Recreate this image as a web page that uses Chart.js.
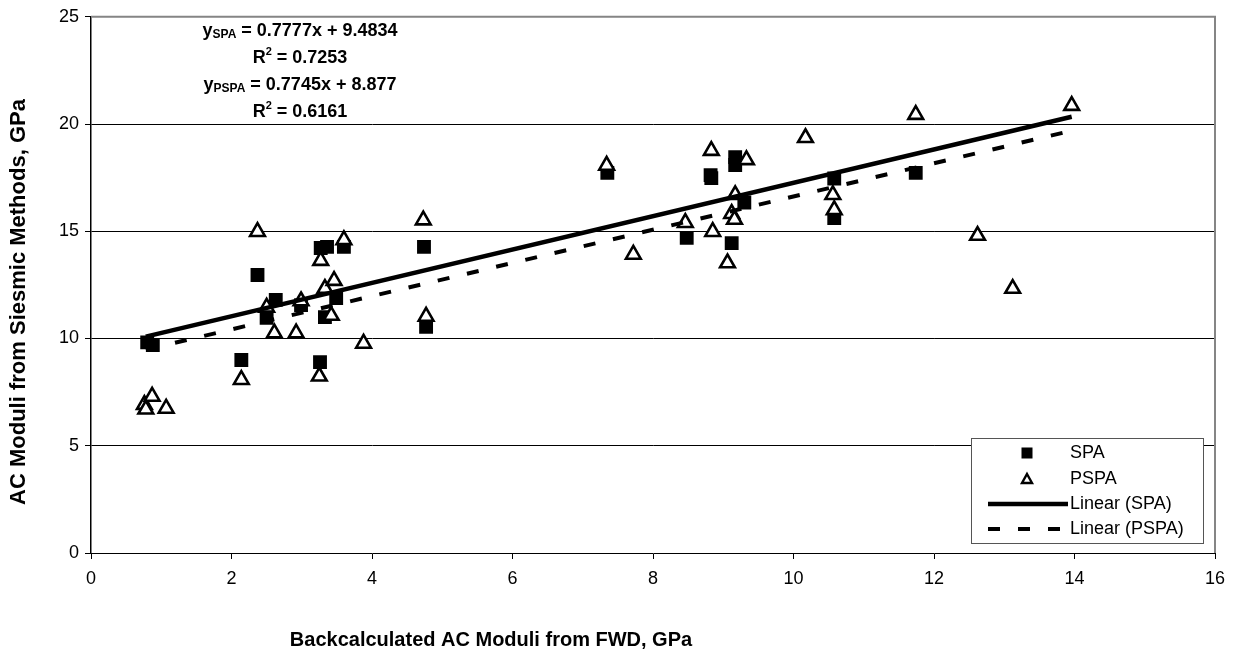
<!DOCTYPE html>
<html>
<head>
<meta charset="utf-8">
<script src="https://cdn.jsdelivr.net/npm/chart.js@4.4.0/dist/chart.umd.min.js"></script>
<style>
  html, body { margin: 0; padding: 0; background: #fff; }
</style>
</head>
<body>
<canvas id="chart" width="1239" height="652"></canvas>
<script>
// SPA measurements (FWD backcalculated vs. seismic), GPa
const spaX = [0.8, 0.88, 2.14, 2.37, 2.5, 2.63, 2.99, 3.26, 3.27, 3.36, 3.33, 3.49, 3.6, 4.74, 4.77,
  7.35, 8.82, 8.83, 8.48, 9.12, 9.17, 9.17, 9.3, 10.58, 10.58, 11.74];
const spaY = [9.82, 9.7, 9.0, 12.96, 10.96, 11.8, 11.56, 8.9, 14.22, 14.27, 11.0, 11.89, 14.27, 14.27, 10.54,
  17.72, 17.62, 17.48, 14.69, 14.45, 18.46, 18.09, 16.34, 17.46, 15.62, 17.72];

// PSPA measurements
const pspaX = [0.76, 0.78, 0.87, 1.07, 2.14, 2.37, 2.5, 2.61, 2.92, 2.99, 3.25, 3.27, 3.33, 3.42, 3.46, 3.6,
  3.88, 4.73, 4.77, 7.34, 7.72, 8.46, 8.83, 8.85, 9.06, 9.12, 9.16, 9.17, 9.33, 10.17, 10.58, 10.56,
  11.74, 12.62, 13.12, 13.96];
const pspaY = [6.92, 6.7, 7.3, 6.74, 8.08, 14.98, 11.45, 10.25, 10.25, 11.75, 8.24, 13.63, 12.33, 11.07, 12.7, 14.6,
  9.77, 15.52, 11.03, 18.07, 13.92, 15.4, 18.76, 14.98, 13.52, 15.82, 15.55, 16.7, 18.33, 19.36, 16.0, 16.7,
  20.44, 14.8, 12.33, 20.86];

// linear fits: [SPA, PSPA]
const fitNames = ['SPA', 'PSPA'];
const fitSlope = [0.7777, 0.7745];
const fitIntercept = [9.4834, 8.877];
const fitR2 = [0.7253, 0.6161];
const fitRange = [0.78, 13.96];

const xTicks = [0, 2, 4, 6, 8, 10, 12, 14, 16];
const yTicks = [0, 5, 10, 15, 20, 25];

const xTitle = 'Backcalculated AC Moduli from FWD, GPa';
const yTitle = 'AC Moduli from Siesmic Methods, GPa';

const FONT = 'Arial, "Liberation Sans", sans-serif';
Chart.defaults.font.family = FONT;
Chart.defaults.color = '#000';

const toPoints = (xs, ys) => xs.map((x, i) => ({ x: x, y: ys[i] }));
const fitLine = (k) => fitRange.map(x => ({ x: x, y: fitSlope[k] * x + fitIntercept[k] }));

// draws a row of text runs (sub/superscripts) centred on cx
function drawRuns(ctx, runs, cx, cy) {
  let total = 0;
  runs.forEach(r => {
    ctx.font = 'bold ' + r.size + 'px ' + FONT;
    r.w = ctx.measureText(r.text).width;
    total += r.w;
  });
  let x = cx - total / 2;
  runs.forEach(r => {
    ctx.font = 'bold ' + r.size + 'px ' + FONT;
    ctx.fillText(r.text, x, cy + (r.dy || 0));
    x += r.w;
  });
}

const decorPlugin = {
  id: 'decor',
  beforeDatasetsDraw(chart) {
    // grey frame on the top and right of the plot area
    const { ctx, chartArea: a } = chart;
    ctx.save();
    ctx.strokeStyle = '#858585';
    ctx.lineWidth = 2;
    ctx.beginPath();
    ctx.moveTo(a.left, a.top);
    ctx.lineTo(a.right, a.top);
    ctx.lineTo(a.right, a.bottom);
    ctx.stroke();
    ctx.restore();
  },
  afterDraw(chart) {
    const ctx = chart.ctx;
    ctx.save();
    ctx.fillStyle = '#000';
    ctx.textBaseline = 'middle';

    // axis titles
    ctx.textAlign = 'center';
    ctx.font = 'bold 20px ' + FONT;
    ctx.fillText(xTitle, 491, 640);
    ctx.save();
    ctx.translate(19, 302);
    ctx.rotate(-Math.PI / 2);
    ctx.font = 'bold 22px ' + FONT;
    ctx.fillText(yTitle, 0, 0);
    ctx.restore();

    // regression equations
    ctx.textAlign = 'left';
    const cx = 300;
    let cy = 31;
    for (let k = 0; k < 2; k++) {
      drawRuns(ctx, [
        { text: 'y', size: 18 },
        { text: fitNames[k], size: 12, dy: 4 },
        { text: ' = ' + fitSlope[k] + 'x + ' + fitIntercept[k], size: 18 }
      ], cx, cy);
      cy += 27;
      drawRuns(ctx, [
        { text: 'R', size: 18 },
        { text: '2', size: 11, dy: -6 },
        { text: ' = ' + fitR2[k], size: 18 }
      ], cx, cy);
      cy += 27;
    }

    // legend box
    const bx = 971, by = 438, bw = 232, bh = 105;
    ctx.fillStyle = '#fff';
    ctx.fillRect(bx, by, bw, bh);
    ctx.strokeStyle = '#555';
    ctx.lineWidth = 1;
    ctx.strokeRect(bx + 0.5, by + 0.5, bw, bh);

    const mx = 1027;
    const rows = [453, 479, 504, 529];
    ctx.fillStyle = '#000';
    ctx.fillRect(mx - 5.5, rows[0] - 5.5, 11, 11);

    ctx.beginPath();
    ctx.moveTo(mx, rows[1] - 5);
    ctx.lineTo(mx + 5, rows[1] + 4);
    ctx.lineTo(mx - 5, rows[1] + 4);
    ctx.closePath();
    ctx.strokeStyle = '#000';
    ctx.lineWidth = 2.4;
    ctx.stroke();

    ctx.lineWidth = 4.5;
    ctx.beginPath();
    ctx.moveTo(988, rows[2]);
    ctx.lineTo(1068, rows[2]);
    ctx.stroke();

    ctx.lineWidth = 4;
    ctx.setLineDash([12, 18]);
    ctx.beginPath();
    ctx.moveTo(988, rows[3]);
    ctx.lineTo(1068, rows[3]);
    ctx.stroke();
    ctx.setLineDash([]);

    ctx.font = '18px ' + FONT;
    ctx.fillStyle = '#000';
    ['SPA', 'PSPA', 'Linear (SPA)', 'Linear (PSPA)'].forEach((t, i) => {
      ctx.fillText(t, 1070, rows[i]);
    });
    ctx.restore();
  }
};

new Chart(document.getElementById('chart'), {
  type: 'scatter',
  data: {
    datasets: [
      {
        label: 'Linear (SPA)',
        type: 'line',
        data: fitLine(0),
        borderColor: '#000',
        borderWidth: 4.5,
        pointRadius: 0,
        fill: false,
        order: 0
      },
      {
        label: 'Linear (PSPA)',
        type: 'line',
        data: fitLine(1),
        borderColor: '#000',
        borderWidth: 4,
        borderDash: [12, 18],
        pointRadius: 0,
        fill: false,
        order: 1
      },
      {
        label: 'SPA',
        data: toPoints(spaX, spaY),
        pointStyle: 'rect',
        pointRadius: 9.8,
        backgroundColor: '#000',
        borderColor: '#000',
        borderWidth: 0,
        order: 3
      },
      {
        label: 'PSPA',
        data: toPoints(pspaX, pspaY),
        pointStyle: 'triangle',
        pointRadius: 8.5,
        backgroundColor: '#fff',
        borderColor: '#000',
        borderWidth: 2.6,
        order: 2
      }
    ]
  },
  options: {
    responsive: false,
    animation: false,
    layout: { padding: { top: 16, right: 24, left: 0, bottom: 0 } },
    plugins: {
      legend: { display: false },
      tooltip: { enabled: false }
    },
    scales: {
      x: {
        type: 'linear',
        min: 0,
        max: 16,
        afterBuildTicks: (s) => { s.ticks = xTicks.map(v => ({ value: v })); },
        afterFit: (s) => { s.height = 99; },
        ticks: { font: { size: 18 }, padding: 9, color: '#000' },
        grid: { drawOnChartArea: false, drawTicks: true, tickLength: 6, tickColor: '#000' },
        border: { color: '#000', width: 1 }
      },
      y: {
        type: 'linear',
        min: 0,
        max: 25,
        afterBuildTicks: (s) => { s.ticks = yTicks.map(v => ({ value: v })); },
        afterFit: (s) => { s.width = 91; },
        ticks: { font: { size: 18 }, padding: 6, color: '#000' },
        grid: {
          color: (c) => (c.tick && (c.tick.value === 25 || c.tick.value === 0)) ? 'rgba(0,0,0,0)' : '#000',
          lineWidth: 1,
          drawTicks: true,
          tickLength: 6,
          tickColor: '#000'
        },
        border: { color: '#000', width: 1.5 }
      }
    }
  },
  plugins: [decorPlugin]
});
</script>
</body>
</html>
